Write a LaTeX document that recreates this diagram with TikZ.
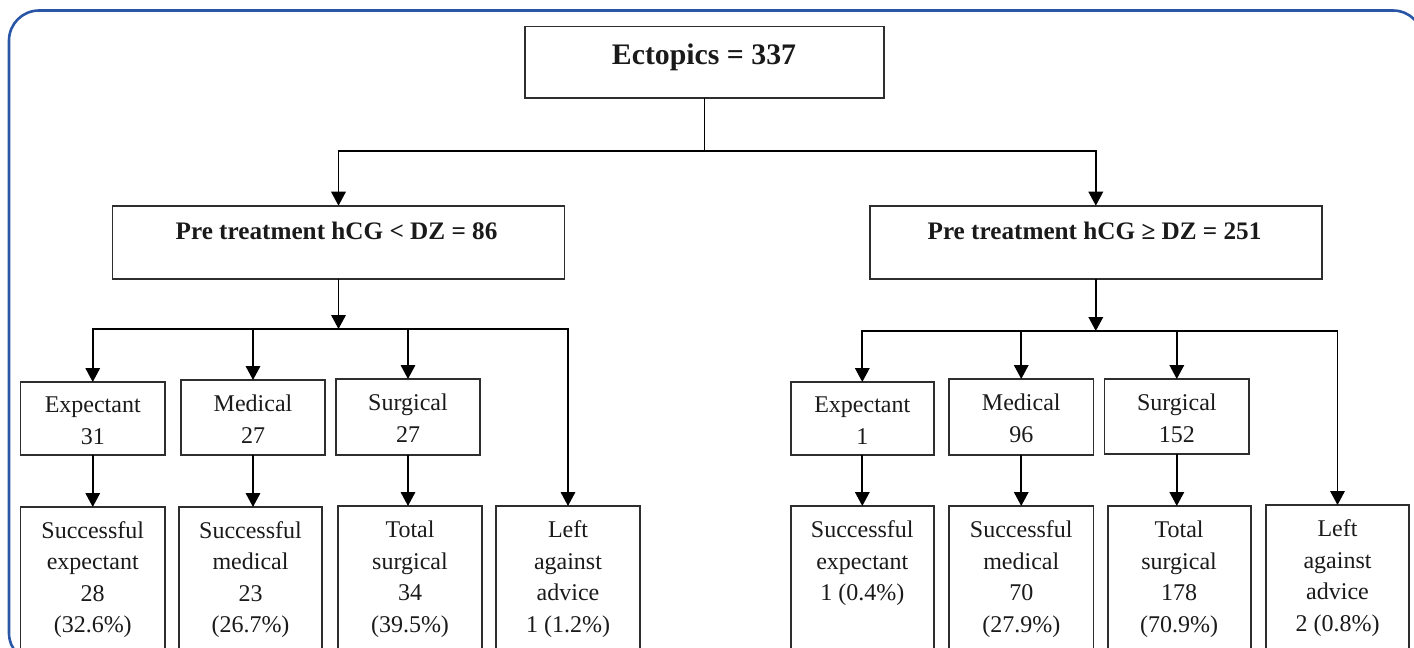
\documentclass[tikz,border=0pt]{standalone}
\usepackage{fontspec}
\setmainfont{Liberation Serif}
\usetikzlibrary{arrows.meta}
\definecolor{frameblue}{HTML}{2A56A6}
\definecolor{boxgray}{HTML}{2E2E2E}
\definecolor{txtcol}{HTML}{1A1A1A}
\begin{document}
\begin{tikzpicture}[x=1pt,y=-1pt,
  box/.style={draw=boxgray,line width=1.8pt,inner sep=0pt,outer sep=0pt,anchor=north west},
  txt/.style={inner sep=0pt,outer sep=0pt,align=center,text=txtcol,font=\fontsize{24}{31.5}\selectfont},
  toptxt/.style={inner sep=0pt,text=txtcol,font=\bfseries\fontsize{29.8}{35}\selectfont},
  midtxt/.style={inner sep=0pt,text=txtcol,font=\bfseries\fontsize{25.2}{30}\selectfont},
  ln/.style={draw=black,line width=1.8pt},
  arr/.style={draw=black,line width=1.8pt,-{Triangle[length=14pt,width=14.5pt]}}]
\useasboundingbox (0,0) rectangle (1414,648);
\clip (0,0) rectangle (1414,648);
% frame
\draw[frameblue,line width=2.6pt,rounded corners=30pt] (9,10.5) rectangle (1423,663);
% top
\node[box,minimum width=359pt,minimum height=71.5pt] (top) at (525,26.5) {};
\node[toptxt,anchor=base] (toplbl) at (704,64) {Ectopics = 337};
% middle
\node[box,minimum width=452pt,minimum height=73pt] (midL) at (112.5,205.7) {};
\node[midtxt,anchor=base] (midLlbl) at (336.5,239) {Pre treatment hCG < DZ = 86};
\node[box,minimum width=451.6pt,minimum height=73pt] (midR) at (870,205.7) {};
\node[midtxt,anchor=base] (midRlbl) at (1094.5,239) {Pre treatment hCG ≥ DZ = 251};
% third row left
\node[box,minimum width=144.5pt,minimum height=73pt] (expL) at (20.5,382) {};
\node[box,minimum width=144pt,minimum height=75pt] (medL) at (181,380) {};
\node[box,minimum width=144pt,minimum height=76pt] (surL) at (336,379) {};
% third row right
\node[box,minimum width=142.6pt,minimum height=73.3pt] (expR) at (791,382) {};
\node[box,minimum width=144.5pt,minimum height=76.3pt] (medR) at (949,379) {};
\node[box,minimum width=144.8pt,minimum height=75pt] (surR) at (1104.4,379) {};
% bottom row left
\node[box,minimum width=144.5pt,minimum height=200pt] (seL) at (20.5,507) {};
\node[box,minimum width=143pt,minimum height=200pt] (smL) at (179,507) {};
\node[box,minimum width=144pt,minimum height=200pt] (tsL) at (338,506) {};
\node[box,minimum width=144pt,minimum height=200pt] (laL) at (496,506) {};
% bottom row right
\node[box,minimum width=142.6pt,minimum height=200pt] (seR) at (791,506) {};
\node[box,minimum width=144.5pt,minimum height=200pt] (smR) at (949,506) {};
\node[box,minimum width=143pt,minimum height=200pt] (tsR) at (1107.6,506) {};
\node[box,minimum width=143pt,minimum height=200pt] (laR) at (1266,505) {};
% texts
\node[txt,anchor=north] (expLt) at ([yshift=-15pt]expL.north) {Expectant\\31};
\node[txt,anchor=north] (medLt) at ([yshift=-15pt]medL.north) {Medical\\27};
\node[txt,anchor=north] (surLt) at ([yshift=-15pt]surL.north) {Surgical\\27};
\node[txt,anchor=north] (expRt) at ([yshift=-15pt]expR.north) {Expectant\\1};
\node[txt,anchor=north] (medRt) at ([yshift=-15pt]medR.north) {Medical\\96};
\node[txt,anchor=north] (surRt) at ([yshift=-15pt]surR.north) {Surgical\\152};
\node[txt,anchor=north] (seLt) at ([yshift=-14.5pt]seL.north) {Successful\\expectant\\28\\(32.6\%)};
\node[txt,anchor=north] (smLt) at ([yshift=-14.5pt]smL.north) {Successful\\medical\\23\\(26.7\%)};
\node[txt,anchor=north] (tsLt) at ([yshift=-15pt]tsL.north) {Total\\surgical\\34\\(39.5\%)};
\node[txt,anchor=north] (laLt) at ([yshift=-15pt]laL.north) {Left\\against\\advice\\1 (1.2\%)};
\node[txt,anchor=north] (seRt) at ([yshift=-15pt]seR.north) {Successful\\expectant\\1 (0.4\%)};
\node[txt,anchor=north] (smRt) at ([yshift=-15pt]smR.north) {Successful\\medical\\70\\(27.9\%)};
\node[txt,anchor=north] (tsRt) at ([yshift=-15pt]tsR.north) {Total\\surgical\\178\\(70.9\%)};
\node[txt,anchor=north] (laRt) at ([yshift=-15pt]laR.north) {Left\\against\\advice\\2 (0.8\%)};
% connectors: top
\coordinate (j0) at (704.5,151);
\draw[ln] (top.south) -- (j0);
\draw[arr] (j0) -| (midL.north);
\draw[arr] (j0) -| (midR.north);
% left branch
\coordinate (jL) at (338.5,329);
\draw[arr] (midL.south) -- (jL);
\draw[arr] (jL) -| (expL.north);
\draw[arr] (jL) -| (medL.north);
\draw[arr] (jL) -| (surL.north);
\draw[arr] (jL) -| (laL.north);
\draw[arr] (expL.south) -- (expL.south |- seL.north);
\draw[arr] (medL.south) -- (medL.south |- smL.north);
\draw[arr] (surL.south) -- (surL.south |- tsL.north);
% right branch
\coordinate (jR) at (1095.8,331);
\draw[arr] (midR.south) -- (jR);
\draw[arr] (jR) -| (expR.north);
\draw[arr] (jR) -| (medR.north);
\draw[arr] (jR) -| (surR.north);
\draw[arr] (jR) -| (laR.north);
\draw[arr] (expR.south) -- (expR.south |- seR.north);
\draw[arr] (medR.south) -- (medR.south |- smR.north);
\draw[arr] (surR.south) -- (surR.south |- tsR.north);
\end{tikzpicture}
\end{document}
